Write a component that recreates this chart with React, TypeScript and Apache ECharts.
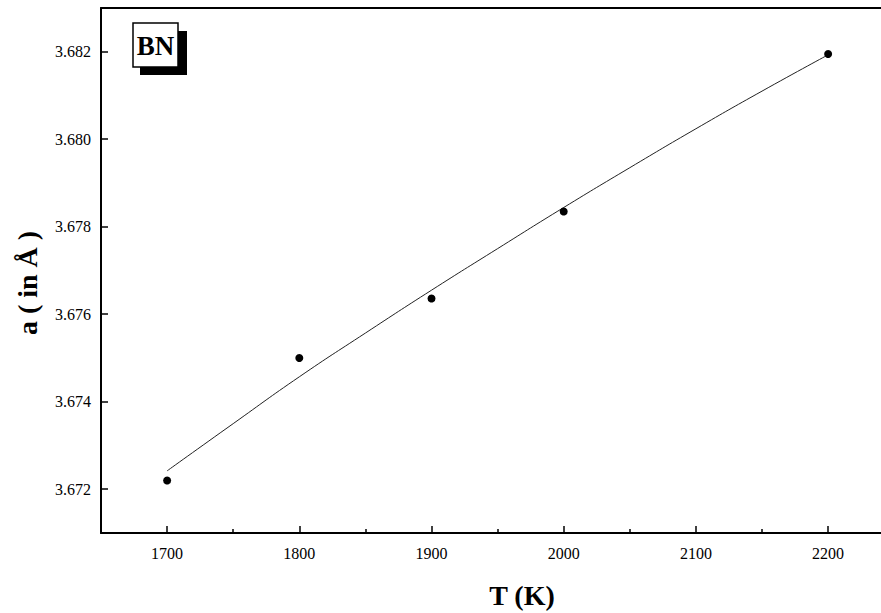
import React, { useEffect, useRef } from "react";
import * as echarts from "echarts";

const temps = [1700, 1800, 1900, 2000, 2200];
const latticeA = [3.6722, 3.675, 3.67636, 3.67835, 3.68195];
const fitTemps = [1700, 1750, 1800, 1850, 1900, 1950, 2000, 2050, 2100, 2150, 2200];
const fitA = [3.67242, 3.6735, 3.67457, 3.67557, 3.67655, 3.6775, 3.67844, 3.67935, 3.68024, 3.6811, 3.68193];
const xMajorTicks = [1700, 1800, 1900, 2000, 2100, 2200];
const xMinorTicks = [1750, 1850, 1950, 2050, 2150];
const yTicks = [3.672, 3.674, 3.676, 3.678, 3.68, 3.682];

const SERIF = "'Liberation Serif', 'DejaVu Serif', serif";

export default function App() {
  const ref = useRef<HTMLDivElement>(null);
  useEffect(() => {
    document.body.style.margin = "0";
    const chart = echarts.init(ref.current!, null, { renderer: "svg" });
    const xRange = { min: 1650, max: 2240 };
    chart.setOption({
      animation: false,
      backgroundColor: "#ffffff",
      grid: { left: 101, right: 0, top: 8, bottom: 80 },
      xAxis: [
        {
          type: "value",
          ...xRange,
          position: "bottom",
          splitLine: { show: false },
          axisLine: { show: true, lineStyle: { color: "#000", width: 2 } },
          axisTick: { show: true, inside: true, length: 7, customValues: xMajorTicks, lineStyle: { color: "#000", width: 1.5 } },
          axisLabel: {
            customValues: xMajorTicks,
            formatter: (v: number) => String(v),
            color: "#000",
            fontFamily: SERIF,
            fontSize: 16,
            margin: 12,
          },
        },
        {
          type: "value",
          ...xRange,
          position: "bottom",
          splitLine: { show: false },
          axisLine: { show: false },
          axisTick: { show: true, inside: true, length: 4, customValues: xMinorTicks, lineStyle: { color: "#000", width: 1.5 } },
          axisLabel: { show: false },
        },
        {
          type: "value",
          ...xRange,
          position: "top",
          splitLine: { show: false },
          axisLine: { show: true, lineStyle: { color: "#000", width: 2 } },
          axisTick: { show: false },
          axisLabel: { show: false },
        },
      ],
      yAxis: {
        type: "value",
        min: 3.671,
        max: 3.683,
        splitLine: { show: false },
        axisLine: { show: true, lineStyle: { color: "#000", width: 2 } },
        axisTick: { show: true, inside: true, length: 7, customValues: yTicks, lineStyle: { color: "#000", width: 1.5 } },
        axisLabel: {
          customValues: yTicks,
          formatter: (v: number) => v.toFixed(3),
          color: "#000",
          fontFamily: SERIF,
          fontSize: 16,
          margin: 10,
        },
      },
      series: [
        {
          type: "line",
          xAxisIndex: 0,
          data: fitTemps.map((t, i) => [t, fitA[i]]),
          smooth: true,
          showSymbol: false,
          lineStyle: { color: "#222", width: 1 },
          z: 2,
        },
        {
          type: "scatter",
          xAxisIndex: 0,
          data: temps.map((t, i) => [t, latticeA[i]]),
          symbol: "circle",
          symbolSize: 8,
          itemStyle: { color: "#000", opacity: 1 },
          z: 3,
        },
      ],
      graphic: [
        { type: "rect", shape: { x: 140, y: 31, width: 47, height: 44 }, style: { fill: "#000" } },
        { type: "rect", shape: { x: 133, y: 23, width: 45, height: 44 }, style: { fill: "#fff", stroke: "#000", lineWidth: 1.5 } },
        {
          type: "text",
          x: 155.5,
          y: 46,
          style: { text: "BN", font: `bold 27px ${SERIF}`, fill: "#000", textAlign: "center", textVerticalAlign: "middle" },
        },
        {
          type: "text",
          x: 522,
          y: 595,
          style: { text: "T (K)", font: `bold 28px ${SERIF}`, fill: "#000", textAlign: "center", textVerticalAlign: "middle" },
        },
        {
          type: "text",
          x: 27,
          y: 283,
          rotation: Math.PI / 2,
          style: { text: "a ( in Å )", font: `bold 28px ${SERIF}`, fill: "#000", textAlign: "center", textVerticalAlign: "middle" },
        },
      ],
    });
    return () => chart.dispose();
  }, []);
  return <div ref={ref} style={{ width: 881, height: 613 }} />;
}
